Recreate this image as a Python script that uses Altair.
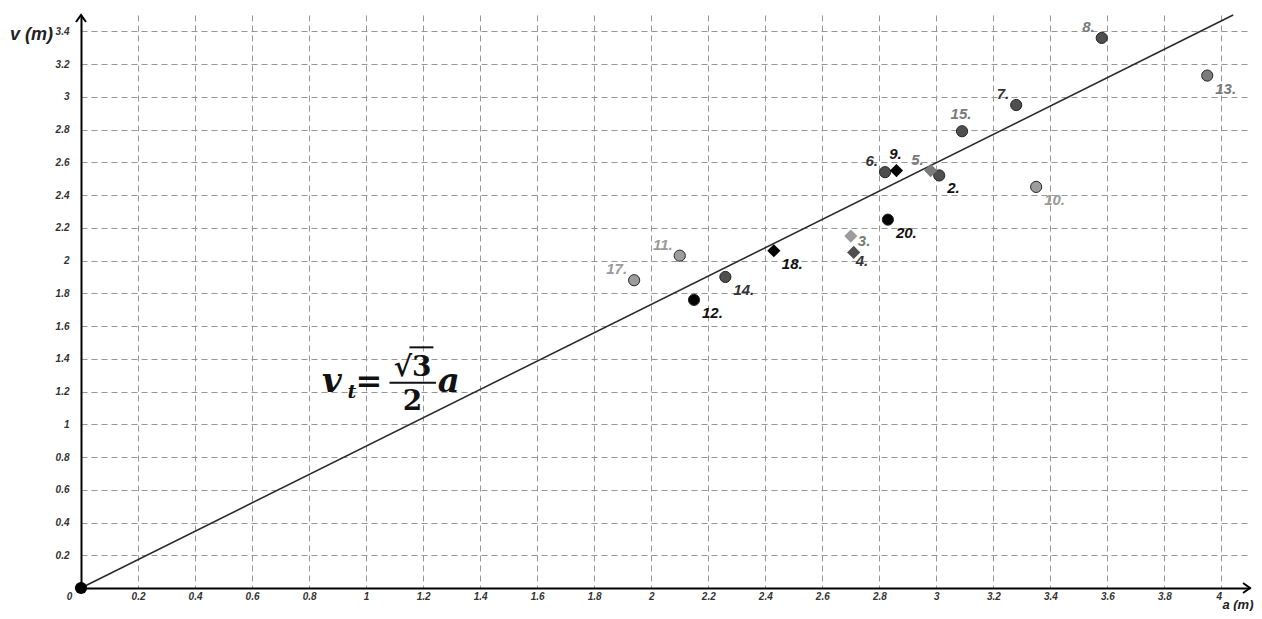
import math
import altair as alt
import pandas as pd

# ---- data ----
ids = ["2.", "3.", "4.", "5.", "6.", "7.", "8.", "9.", "10.", "11.", "12.",
       "13.", "14.", "15.", "17.", "18.", "20."]
a_vals = [3.01, 2.70, 2.71, 2.98, 2.82, 3.28, 3.58, 2.86, 3.35, 2.10, 2.15,
          3.95, 2.26, 3.09, 1.94, 2.43, 2.83]
v_vals = [2.52, 2.15, 2.05, 2.55, 2.54, 2.95, 3.36, 2.55, 2.45, 2.03, 1.76,
          3.13, 1.90, 2.79, 1.88, 2.06, 2.25]
markers = ["circle", "diamond", "diamond", "diamond", "circle", "circle", "circle",
           "diamond", "circle", "circle", "circle", "circle", "circle", "circle",
           "circle", "diamond", "circle"]
tones = ["dark", "light", "dark", "mid", "dark", "dark", "dark", "black", "light",
         "light", "black", "mid", "dark", "dark", "light", "black", "black"]
label_tones = ["black", "mid", "dark", "mid", "dark", "dark", "mid", "black", "light",
               "light", "black", "mid", "dark", "mid", "light", "black", "black"]
label_sides = ["dr", "r", "d", "ul", "ul", "ul", "ul", "u", "dr", "ul", "dr",
               "dr", "dr", "u", "ul", "dr", "dr"]

origin_a = [0.0]
origin_v = [0.0]

line_a = [0.0, 4.041]   # v_t = sqrt(3)/2 * a, drawn up to the top of the plot

x_ticks = [round(i * 0.2, 1) for i in range(0, 21)]
y_ticks = [round(i * 0.2, 1) for i in range(1, 18)]
x_max = 4.1
y_max = 3.5

# formula pieces
f_text = ["v", "t", "=", "√3", "2", "a"]
f_a = [0.880, 0.950, 1.010, 1.163, 1.163, 1.290]
f_v = [1.199, 1.160, 1.199, 1.296, 1.089, 1.199]
f_size = [34, 19, 32, 28, 28, 34]
f_style = ["italic", "italic", "normal", "normal", "normal", "italic"]

bar_a = [1.082, 1.245]
bar_v = [1.254]
vinc_a = [1.152, 1.236]
vinc_v = [1.470]

# ---- tables ----
pts = pd.DataFrame({"id": ids, "a": a_vals, "v": v_vals, "marker": markers,
                    "tone": tones, "ltone": label_tones, "side": label_sides})
line_df = pd.DataFrame({"a": line_a})
origin_df = pd.DataFrame({"a": origin_a, "v": origin_v})
formula_df = pd.DataFrame({"txt": f_text, "a": f_a, "v": f_v, "size": f_size,
                           "style": f_style})
bar_df = pd.DataFrame({"a": [bar_a[0]], "a2": [bar_a[1]], "v": bar_v})
vinc_df = pd.DataFrame({"a": [vinc_a[0]], "a2": [vinc_a[1]], "v": vinc_v})
yarrow_df = pd.DataFrame({"a": [0.0], "v": [y_max]})
xarrow_df = pd.DataFrame({"a": [x_max], "v": [0.0]})

x_scale = alt.Scale(domain=[0, x_max], nice=False, zero=True)
y_scale = alt.Scale(domain=[0, y_max], nice=False, zero=True)

AXFONT = "Liberation Sans"
x_axis = alt.Axis(
    values=x_ticks, format="~g", grid=True, gridDash=[6, 4], gridColor="#969696",
    gridWidth=1, ticks=False, domainColor="#000000", domainWidth=2,
    labelFont=AXFONT, labelFontStyle="italic", labelFontWeight="bold",
    labelFontSize=10, labelColor="#333333", labelPadding=3,
    labelOffset={"condition": {"test": "datum.value == 0", "value": -12}, "value": 0},
    labelAlign={"condition": {"test": "datum.value == 4", "value": "right"},
                "value": "center"},
    title="a (m)", titleFont=AXFONT, titleFontStyle="italic", titleFontWeight="bold",
    titleFontSize=13, titleColor="#222222", titleX=1172, titleY=20,
    titleAlign="right", titleBaseline="alphabetic", titleAngle=0,
)
y_axis = alt.Axis(
    values=y_ticks, format="~g", grid=True, gridDash=[6, 4], gridColor="#969696",
    gridWidth=1, ticks=False, domainColor="#000000", domainWidth=2,
    labelFont=AXFONT, labelFontStyle="italic", labelFontWeight="bold",
    labelFontSize=10, labelColor="#333333", labelPadding=12,
    title="v (m)", titleFont=AXFONT, titleFontStyle="italic", titleFontWeight="bold",
    titleFontSize=18, titleColor="#222222", titleX=-50, titleY=19,
    titleAlign="center", titleBaseline="middle", titleAngle=0,
)

tone_scale = alt.Scale(domain=["black", "dark", "mid", "light"],
                       range=["#050505", "#4f4f4f", "#7a7a7a", "#9c9c9c"])
ltone_scale = alt.Scale(domain=["black", "dark", "mid", "light"],
                        range=["#111111", "#333333", "#7a7a7a", "#9a9a9a"])

X = lambda: alt.X("a:Q", scale=x_scale, axis=x_axis)
Y = lambda: alt.Y("v:Q", scale=y_scale, axis=y_axis)

fit_line = alt.Chart(line_df).transform_calculate(
    v="sqrt(3) / 2 * datum.a"
).mark_line(color="#2b2b2b", strokeWidth=1.6).encode(x=X(), y=Y())

circles = alt.Chart(pts).transform_filter(alt.datum.marker == "circle").mark_point(
    filled=True, shape="circle", size=125, stroke="#262626", strokeWidth=1, opacity=1
).encode(x=X(), y=Y(), fill=alt.Fill("tone:N", scale=tone_scale, legend=None))

diamonds = alt.Chart(pts).transform_filter(alt.datum.marker == "diamond").mark_point(
    filled=True, shape="diamond", size=175, opacity=1
).encode(x=X(), y=Y(), fill=alt.Fill("tone:N", scale=tone_scale, legend=None))

offsets = {
    "ul": ("right", -7, -11),
    "dr": ("left", 8, 13),
    "r": ("left", 7, 5),
    "d": ("left", 2, 9),
    "u": ("center", -1, -17),
}
label_layers = []
for side, (al, dx, dy) in offsets.items():
    label_layers.append(
        alt.Chart(pts).transform_filter(alt.datum.side == side).mark_text(
            font=AXFONT, fontStyle="italic", fontWeight="bold", fontSize=15,
            align=al, baseline="middle", dx=dx, dy=dy
        ).encode(x=X(), y=Y(), text="id:N",
                 color=alt.Color("ltone:N", scale=ltone_scale, legend=None))
    )

origin = alt.Chart(origin_df).mark_point(
    filled=True, shape="circle", size=150, color="#000000", opacity=1
).encode(x=X(), y=Y())

formula_layers = []
for i in range(len(f_text)):
    formula_layers.append(
        alt.Chart(formula_df.iloc[[i]]).mark_text(
            font="DejaVu Serif", fontWeight="bold", fontStyle=f_style[i],
            fontSize=f_size[i], align="center", baseline="alphabetic", color="#111111"
        ).encode(x=X(), y=Y(), text="txt:N")
    )
frac_bar = alt.Chart(bar_df).mark_rule(color="#111111", strokeWidth=2).encode(
    x=X(), x2="a2:Q", y=Y())
vinculum = alt.Chart(vinc_df).mark_rule(color="#111111", strokeWidth=2).encode(
    x=X(), x2="a2:Q", y=Y())

y_arrow = alt.Chart(yarrow_df).mark_point(
    shape="M -1 1.4 L 0 0 L 1 1.4", filled=False, size=100, color="#000000",
    strokeWidth=2, opacity=1
).encode(x=X(), y=Y())
x_arrow = alt.Chart(xarrow_df).mark_point(
    shape="M -1.4 -1 L 0 0 L -1.4 1", filled=False, size=100, color="#000000",
    strokeWidth=2, opacity=1
).encode(x=X(), y=Y())

chart = alt.layer(
    fit_line, circles, diamonds, *label_layers, *formula_layers,
    frac_bar, vinculum, y_arrow, x_arrow, origin
).properties(
    width=1169, height=573,
    autosize=alt.AutoSizeParams(type="none"),
    padding={"left": 73, "top": 7, "right": 4, "bottom": 23},
    background="#ffffff",
).configure_view(stroke=None)

chart.save("out.html", embed_options={"renderer": "svg", "actions": False})
